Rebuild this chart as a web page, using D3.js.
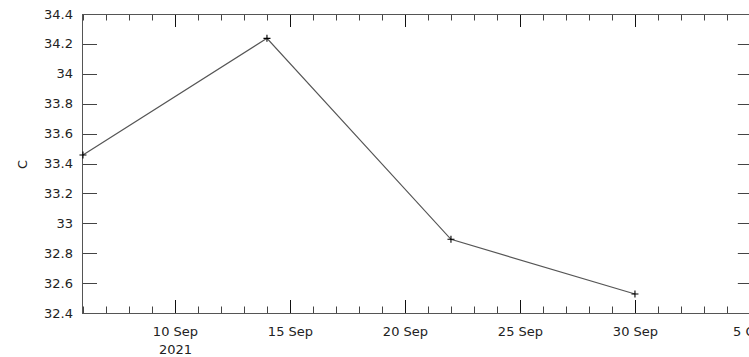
<!DOCTYPE html>
<html><head><meta charset="utf-8">
<script src="https://cdn.jsdelivr.net/npm/d3@7"></script>
<style>
html,body{margin:0;padding:0;background:#fff;overflow:hidden}
svg{display:block}
text{font-family:"DejaVu Sans",sans-serif;fill:#222}
</style></head>
<body><svg id="c" width="749" height="357"></svg>
<script>
const dates = ["2021-09-06","2021-09-14","2021-09-22","2021-09-30"];
const values = [33.457, 34.237, 32.893, 32.527];
const yTicks = [32.4,32.6,32.8,33,33.2,33.4,33.6,33.8,34,34.2,34.4];
const yTickLabels = ["32.4","32.6","32.8","33","33.2","33.4","33.6","33.8","34","34.2","34.4"];
const xMajorTicks = ["2021-09-10","2021-09-15","2021-09-20","2021-09-25","2021-09-30","2021-10-05"];
const xMajorLabels = ["10 Sep","15 Sep","20 Sep","25 Sep","30 Sep","5 Oct"];
const xYearLabel = "2021";
const yLabel = "C";
const xDomain = ["2021-09-05T23:00:00Z","2021-10-05T03:00:00Z"];
const yDomain = [32.4, 34.4];

const svg = d3.select("#c");
const L = 82, T = 14, B = 313, pxPerDay = 23;
const d0 = new Date(xDomain[0]), d1 = new Date(xDomain[1]);
const R = L + (d1 - d0) / 864e5 * pxPerDay;
const x = d3.scaleUtc().domain([d0, d1]).range([L, R]);
const y = d3.scaleLinear().domain(yDomain).range([B, T]);
const pd = s => new Date(s + "T00:00:00Z");

const minor = d3.utcDay.range(d0, d1);
const majorSet = new Set(xMajorTicks.map(s => pd(s).getTime()));
const g = svg.append("g");

minor.forEach(d => {
  const isMaj = majorSet.has(d.getTime());
  const len = isMaj ? 13 : 6.5;
  const xx = Math.round(x(d)) + 0.5;
  g.append("line").attr("x1", xx).attr("x2", xx).attr("y1", B).attr("y2", B - len)
    .attr("stroke", isMaj ? "#111" : "#444").attr("stroke-width", 1);
  g.append("line").attr("x1", xx).attr("x2", xx).attr("y1", T).attr("y2", T + len)
    .attr("stroke", isMaj ? "#111" : "#444").attr("stroke-width", 1);
});
yTicks.forEach((v, i) => {
  const yy = Math.round(y(v)) + 0.5;
  g.append("line").attr("x1", L).attr("x2", L + 15).attr("y1", yy).attr("y2", yy).attr("stroke", "#444");
  g.append("line").attr("x1", R).attr("x2", R - 15).attr("y1", yy).attr("y2", yy).attr("stroke", "#444");
  g.append("text").attr("x", 73).attr("y", y(v)).attr("dy", "0.35em")
    .attr("text-anchor", "end").attr("font-size", "13px").text(yTickLabels[i]);
});
g.append("rect").attr("x", L + 0.5).attr("y", T + 0.5).attr("width", R - L - 1).attr("height", B - T)
  .attr("fill", "none").attr("stroke", "#555").attr("stroke-width", 1);

xMajorTicks.forEach((s, i) => {
  g.append("text").attr("x", x(pd(s)) + 0.5).attr("y", 336).attr("text-anchor", "middle")
    .attr("font-size", "13px").text(xMajorLabels[i]);
});
g.append("text").attr("x", x(pd(xMajorTicks[0])) + 0.5).attr("y", 354).attr("text-anchor", "middle")
  .attr("font-size", "13px").text(xYearLabel);

g.append("text").attr("transform", `translate(22,${(T + B) / 2 + 1}) rotate(-90)`)
  .attr("text-anchor", "middle").attr("dy", "0.35em").attr("font-size", "13px").text(yLabel);

const pts = dates.map((s, i) => ({ d: pd(s), v: values[i] }));
g.append("path").datum(pts)
  .attr("d", d3.line().x(p => x(p.d)).y(p => y(p.v)))
  .attr("fill", "none").attr("stroke", "#555").attr("stroke-width", 1.2);
const m = 3.5;
pts.forEach(p => {
  const cx = x(p.d), cy = y(p.v);
  g.append("path").attr("d", `M${cx - m},${cy}H${cx + m}M${cx},${cy - m}V${cy + m}`)
    .attr("stroke", "#000").attr("stroke-width", 1.1);
});
</script></body></html>
